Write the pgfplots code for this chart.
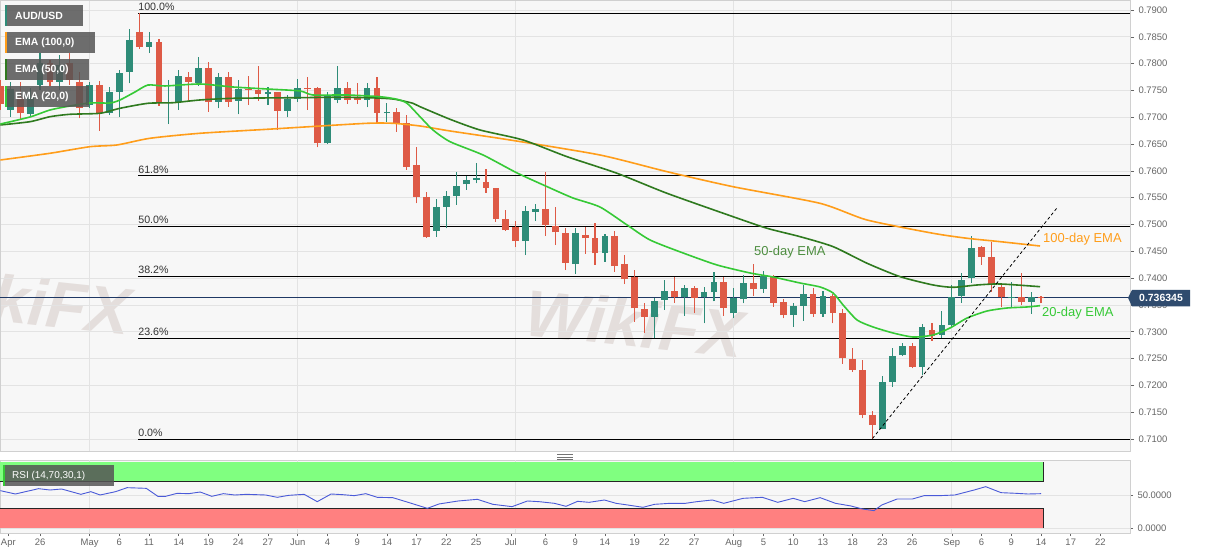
\documentclass[border=0pt]{standalone}
\usepackage{pgfplots}
\pgfplotsset{compat=1.18}
\usepackage{pgfplotstable}
\usepackage{fontspec}
\setmainfont{Liberation Sans}
\definecolor{bull}{HTML}{2E8C78}
\definecolor{bear}{HTML}{DE5A46}
\definecolor{ema20}{HTML}{36C936}
\definecolor{ema50}{HTML}{2F7A1F}
\definecolor{ema100}{HTML}{FF9D1A}
\definecolor{navy}{HTML}{2F4B6E}
\definecolor{pline}{HTML}{1F3864}
\definecolor{gridc}{HTML}{E3E3E3}
\definecolor{framec}{HTML}{D0D0D0}
\definecolor{tickc}{HTML}{666666}
\definecolor{bgc}{HTML}{F7F7F7}
\definecolor{rsiblue}{HTML}{4A5AD8}
\definecolor{bandg}{HTML}{80FF80}
\definecolor{bandr}{HTML}{FF8080}
\definecolor{legbg}{HTML}{555555}
\definecolor{fibc}{HTML}{333333}
\definecolor{wm}{HTML}{C8B9B4}

\pgfplotstableread{
i o h l c
1 0.77136 0.77658 0.77005 0.77527
3 0.77061 0.77546 0.76999 0.77384
4 0.77602 0.78193 0.77508 0.78006
6 0.77663 0.78161 0.77508 0.77974
9 0.77229 0.77663 0.77167 0.77602
11 0.77074 0.77561 0.77042 0.77479
12 0.77479 0.77882 0.77011 0.77833
13 0.77850 0.78641 0.77633 0.78441
15 0.78317 0.78586 0.78194 0.78411
17 0.77266 0.77695 0.76874 0.77290
18 0.77290 0.77882 0.77136 0.77770
20 0.77646 0.78130 0.77583 0.77926
22 0.77290 0.77819 0.77167 0.77757
24 0.77309 0.77695 0.77055 0.77521
27 0.77434 0.77570 0.77229 0.77471
29 0.77123 0.77415 0.76999 0.77341
30 0.77341 0.77708 0.77290 0.77540
33 0.76514 0.77477 0.76501 0.77415
34 0.77322 0.77956 0.77260 0.77551
37 0.77322 0.77633 0.77186 0.77540
39 0.77074 0.77273 0.76918 0.77104
44 0.74885 0.75476 0.74774 0.75321
45 0.75332 0.75631 0.74929 0.75532
46 0.75537 0.75985 0.75364 0.75724
47 0.75750 0.75905 0.75644 0.75830
48 0.75830 0.76153 0.75768 0.75873
53 0.74692 0.75345 0.74431 0.75257
54 0.75238 0.75376 0.75065 0.75283
58 0.74263 0.74929 0.74076 0.74835
61 0.74474 0.74823 0.74307 0.74791
66 0.73282 0.73624 0.72877 0.73575
67 0.73592 0.73965 0.73406 0.73760
69 0.73654 0.73866 0.73294 0.73822
71 0.73642 0.73841 0.73158 0.73747
72 0.73735 0.74120 0.73567 0.73929
74 0.73344 0.73810 0.73251 0.73624
75 0.73605 0.74058 0.73530 0.73915
77 0.73792 0.74139 0.73722 0.74040
80 0.73312 0.73543 0.73095 0.73486
81 0.73486 0.73872 0.73201 0.73704
83 0.73331 0.73754 0.73282 0.73667
89 0.71181 0.72175 0.71181 0.72058
90 0.72068 0.72691 0.71975 0.72553
91 0.72566 0.72785 0.72547 0.72740
93 0.72348 0.73144 0.72194 0.73094
95 0.72939 0.73393 0.72877 0.73126
96 0.73126 0.73872 0.73064 0.73654
97 0.73667 0.74090 0.73543 0.73965
98 0.73997 0.74786 0.73915 0.74568
102 0.73624 0.73934 0.73456 0.73654
104 0.73561 0.73747 0.73331 0.73654
}\bulltab

\pgfplotstableread{
i o h l c
0 0.77583 0.77695 0.77136 0.77247
2 0.77384 0.77663 0.76949 0.77074
5 0.78006 0.78068 0.77583 0.77663
7 0.78006 0.78193 0.77602 0.77695
8 0.77663 0.77850 0.76981 0.77167
10 0.77602 0.77676 0.76744 0.77074
14 0.78586 0.78940 0.78269 0.78317
16 0.78411 0.78455 0.77210 0.77260
19 0.77745 0.77850 0.77309 0.77658
21 0.77926 0.78031 0.77104 0.77290
23 0.77757 0.77850 0.77197 0.77290
25 0.77527 0.77770 0.77229 0.77508
26 0.77508 0.77962 0.77309 0.77434
28 0.77465 0.77477 0.76762 0.77123
31 0.77551 0.77745 0.77136 0.77521
32 0.77540 0.77558 0.76440 0.76514
35 0.77551 0.77663 0.77247 0.77322
36 0.77385 0.77633 0.77247 0.77322
38 0.77540 0.77757 0.76889 0.77085
40 0.77104 0.77167 0.76731 0.76901
41 0.76887 0.77042 0.76017 0.76078
42 0.76110 0.76451 0.75395 0.75519
43 0.75519 0.75612 0.74750 0.74762
49 0.75798 0.76030 0.75588 0.75686
50 0.75675 0.75681 0.75052 0.75102
51 0.75097 0.75270 0.74884 0.74897
52 0.74959 0.75070 0.74573 0.74692
55 0.75283 0.75985 0.74785 0.74990
56 0.74972 0.75332 0.74617 0.74854
57 0.74847 0.74935 0.74151 0.74288
59 0.74804 0.74948 0.74452 0.74743
60 0.74743 0.75023 0.74245 0.74463
62 0.74791 0.74879 0.74120 0.74226
63 0.74257 0.74431 0.73890 0.73978
64 0.74027 0.74151 0.73188 0.73438
65 0.73426 0.73543 0.72970 0.73282
68 0.73765 0.74015 0.73543 0.73654
70 0.73822 0.73853 0.73344 0.73636
73 0.73929 0.74027 0.73294 0.73444
76 0.73915 0.74263 0.73667 0.73792
78 0.74027 0.74058 0.73468 0.73543
79 0.73549 0.73604 0.73251 0.73312
82 0.73704 0.73816 0.73282 0.73331
84 0.73667 0.73704 0.73157 0.73356
85 0.73344 0.73419 0.72399 0.72505
86 0.72486 0.72691 0.72255 0.72287
87 0.72287 0.72473 0.71386 0.71448
88 0.71448 0.71528 0.71000 0.71261
92 0.72740 0.72785 0.72318 0.72348
94 0.73033 0.73157 0.72833 0.72921
99 0.74587 0.74599 0.74245 0.74400
100 0.74388 0.74667 0.73747 0.73890
101 0.73829 0.73872 0.73456 0.73642
103 0.73642 0.74101 0.73493 0.73561
105 0.73654 0.73666 0.73530 0.73635
}\beartab

\begin{document}
\begin{tikzpicture}
\fill[white] (0,0) rectangle (1207bp,555bp);
\path[use as bounding box] (0,0) rectangle (1207bp,555bp);
\fill[bgc] (0,104bp) rectangle (1130bp,555bp);
\fill[bgc] (0,22bp) rectangle (1130bp,95bp);
% faint watermarks
\node[text=wm, opacity=0.4, rotate=-6, font=\bfseries\itshape\fontsize{66}{66}\selectfont] at (22bp,255bp) {WikiFX};
\node[text=wm, opacity=0.4, rotate=-6, font=\bfseries\itshape\fontsize{66}{66}\selectfont] at (635bp,232bp) {WikiFX};

\begin{axis}[
  at={(0bp,104bp)}, anchor=south west, scale only axis,
  width=1130bp, height=451bp,
  xmin=-0.04, xmax=113.98, ymin=0.707763, ymax=0.791865,
  axis line style={draw=framec, line width=0.7bp},
  xtick={9,30,52,74,96}, xticklabels={}, xmajorgrids,
  x tick style={draw=none},
  ytick={0.710,0.715,0.720,0.725,0.730,0.735,0.740,0.745,0.750,0.755,0.760,0.765,0.770,0.775,0.780,0.785,0.790},
  ytick pos=right, yticklabel pos=right, ymajorgrids,
  y tick style={draw=tickc, line width=0.6bp},
  tick align=outside, major tick length=4bp,
  grid style={draw=gridc, line width=0.7bp},
  yticklabel style={font=\fontsize{9.5}{11}\selectfont, text=tickc, xshift=1bp,
    /pgf/number format/.cd, fixed, fixed zerofill, precision=4, assume math mode=true},
]
% Fibonacci levels
\addplot[black, line width=0.8bp, forget plot] coordinates {(13.9,0.78940) (113.98,0.78940)};
\addplot[black, line width=0.8bp, forget plot] coordinates {(13.9,0.75907) (113.98,0.75907)};
\addplot[black, line width=0.8bp, forget plot] coordinates {(13.9,0.74970) (113.98,0.74970)};
\addplot[black, line width=0.8bp, forget plot] coordinates {(13.9,0.74033) (113.98,0.74033)};
\addplot[black, line width=0.8bp, forget plot] coordinates {(13.9,0.72874) (113.98,0.72874)};
\addplot[black, line width=0.8bp, forget plot] coordinates {(13.9,0.71000) (113.98,0.71000)};
% current price
\addplot[pline, line width=0.8bp, forget plot] coordinates {(-0.04,0.736345) (113.98,0.736345)};
% wicks
\addplot[draw=none, mark=none, forget plot, error bars/.cd, y dir=plus, y explicit, error mark=none,
  error bar style={draw=bull, line width=1.1bp}] table[x=i, y=l, y error expr=\thisrow{h}-\thisrow{l}] {\bulltab};
\addplot[draw=none, mark=none, forget plot, error bars/.cd, y dir=plus, y explicit, error mark=none,
  error bar style={draw=bear, line width=1.1bp}] table[x=i, y=l, y error expr=\thisrow{h}-\thisrow{l}] {\beartab};
% bodies
\addplot[draw=none, mark=none, forget plot, error bars/.cd, y dir=plus, y explicit, error mark=none,
  error bar style={draw=bull, line width=6.8bp}] table[x=i, y=o, y error expr=\thisrow{c}-\thisrow{o}] {\bulltab};
\addplot[draw=none, mark=none, forget plot, error bars/.cd, y dir=plus, y explicit, error mark=none,
  error bar style={draw=bear, line width=6.8bp}] table[x=i, y=c, y error expr=\thisrow{o}-\thisrow{c}] {\beartab};
% EMA 100
\addplot[ema100, line width=1.6bp, smooth, tension=0.4, forget plot] coordinates {
(0,0.76203) (5.0,0.76328) (9.04,0.76451) (11.77,0.76483) (15.1,0.76608) (20.14,0.76701)
(26.9,0.76775) (30.23,0.76813) (36.99,0.76887) (39.62,0.76887) (42.34,0.76837) (45.37,0.76744)
(51.42,0.76576) (60.5,0.76296) (67.26,0.75985) (73.92,0.75705) (82.7,0.75395) (87.45,0.75084)
(94.11,0.74836) (97.54,0.74743) (100.87,0.74680) (104.9,0.74599)};
% EMA 50
\addplot[ema50, line width=1.6bp, smooth, tension=0.4, forget plot] coordinates {
(0,0.76856) (2.99,0.76917) (5.0,0.77010) (7.02,0.77055) (10.05,0.77074) (12.07,0.77167)
(14.89,0.77260) (17.42,0.77271) (20.14,0.77322) (23.47,0.77353) (30.23,0.77365) (33.56,0.77372)
(36.99,0.77365) (39.62,0.77340) (41.63,0.77260) (42.34,0.77197) (45.37,0.76962) (48.4,0.76762)
(52.73,0.76576) (57.17,0.76265) (62.22,0.75955) (67.26,0.75582) (73.92,0.75146) (77.36,0.74929)
(80.69,0.74773) (84.02,0.74587) (87.45,0.74277) (90.78,0.74027) (94.11,0.73872) (96.13,0.73829)
(98.55,0.73872) (100.87,0.73891) (104.9,0.73840)};
% EMA 20
\addplot[ema20, line width=1.6bp, smooth, tension=0.4, forget plot] coordinates {
(0,0.76874) (2.99,0.77005) (5.0,0.77135) (7.02,0.77210) (9.04,0.77266) (11.06,0.77266)
(12.07,0.77322) (13.58,0.77471) (14.89,0.77601) (16.61,0.77583) (20.14,0.77620) (23.47,0.77564)
(26.9,0.77527) (30.23,0.77490) (31.54,0.77415) (34.98,0.77415) (38.3,0.77383) (40.02,0.77335)
(41.03,0.77260) (42.34,0.77010) (43.65,0.76762) (45.37,0.76544) (48.7,0.76296) (52.13,0.75961)
(55.46,0.75681) (57.78,0.75494) (60.5,0.75326) (63.23,0.74991) (65.55,0.74711) (68.88,0.74469)
(72.31,0.74245) (75.64,0.74096) (77.96,0.74021) (80.69,0.73909) (82.7,0.73835) (84.02,0.73723)
(85.03,0.73499) (86.44,0.73219) (88.05,0.73089) (90.07,0.72977) (92.09,0.72902) (94.11,0.72939)
(95.82,0.73070) (97.54,0.73256) (99.56,0.73387) (101.58,0.73443) (103.59,0.73462) (104.9,0.73486)};
% trend line
\addplot[black, line width=0.8bp, dash pattern=on 3bp off 2.5bp, forget plot] coordinates {(88.0,0.71010) (106.7,0.75330)};
% fib labels
\foreach \lv/\tx in {0.78940/100.0\%, 0.75907/61.8\%, 0.74970/50.0\%, 0.74033/38.2\%, 0.72874/23.6\%, 0.71000/0.0\%}{
  \edef\temp{\noexpand\node[anchor=base west, inner sep=0pt, yshift=2.6bp, text=fibc, font=\noexpand\fontsize{10.7}{12}\noexpand\selectfont] at (axis cs:13.9,\lv) {\tx};}
  \temp
}
\end{axis}

\begin{axis}[
  at={(0bp,22bp)}, anchor=south west, scale only axis,
  width=1130bp, height=73bp,
  xmin=-0.04, xmax=113.98, ymin=-7.06, ymax=102.55,
  axis line style={draw=framec, line width=0.7bp},
  xtick={0.8,4,9,12,15,18,21,24,27,30,33,36,39,42,45,48,51.5,55,58,61,64,67,70,74,77,80,83,86,89,92,96,99,102,105,108,111},
  xticklabels={Apr,26,May,6,11,14,19,24,27,Jun,4,9,14,17,22,25,Jul,6,9,14,19,22,27,Aug,5,10,13,18,23,26,Sep,6,9,14,17,22},
  xtick pos=bottom,
  x tick style={draw=tickc, line width=0.6bp},
  xticklabel style={font=\fontsize{9.5}{11}\selectfont, text=tickc, yshift=0.5bp},
  extra x ticks={9,30,52,74,96}, extra x tick labels={},
  extra x tick style={grid=major, major tick length=0pt},
  ytick={0,50}, yticklabels={0.0000,50.0000},
  ytick pos=right, yticklabel pos=right, ymajorgrids,
  y tick style={draw=tickc, line width=0.6bp},
  tick align=outside, major tick length=3bp,
  grid style={draw=gridc, line width=0.7bp},
  yticklabel style={font=\fontsize{9.5}{11}\selectfont, text=tickc, xshift=1bp},
]
\addplot[fill=bandg, draw=none, forget plot] coordinates {(-0.04,70) (105.2,70) (105.2,100) (-0.04,100)} -- cycle;
\addplot[fill=bandr, draw=none, forget plot] coordinates {(-0.04,0) (105.2,0) (105.2,30) (-0.04,30)} -- cycle;
\addplot[black!85, line width=0.8bp, forget plot] coordinates {(-0.04,70) (105.2,70) (105.2,100)};
\addplot[black!85, line width=0.8bp, forget plot] coordinates {(-0.04,30) (105.2,30) (105.2,0)};
\addplot[rsiblue, line width=0.9bp, forget plot] coordinates {
(0,56.5) (1.51,51.5) (3.85,59.5) (5.01,57.5) (6.18,59) (8.12,51) (9.13,55) (10.06,50) (11.62,55)
(12.78,61) (14.72,60) (15.89,48) (16.67,48) (17.83,52.5) (19.0,52) (20.16,54.5) (21.33,48) (22.49,52)
(23.66,50) (24.82,51) (26.77,50) (27.93,46.5) (29.1,49.5) (30.65,51) (31.97,40) (33.37,51.5) (34.54,50.5)
(35.7,49) (36.87,52) (38.03,46.5) (39.59,46) (41.14,39) (43.08,30) (44.25,36.5) (46.19,41) (48.13,43.5)
(49.69,36) (51.63,32.5) (53.18,41) (54.35,40) (55.9,37.5) (57.07,33) (58.24,40.5) (59.4,39) (60.95,42.5)
(62.12,37.5) (63.29,35) (64.84,31.5) (66.0,36) (67.56,37.5) (69.11,37.5) (70.28,40) (71.83,42.5) (72.99,37.5)
(74.94,45) (76.88,46.5) (78.44,39) (79.99,45) (81.16,40) (82.71,46) (84.26,37.5) (85.82,33.5) (86.98,29)
(88.15,26.5) (88.93,35) (90.48,44) (92.03,44) (93.2,49) (94.75,49) (96.31,50) (98.25,57.5) (99.42,62.5)
(100.97,53.5) (102.52,52.5) (103.69,51.5) (105.01,52)};
\end{axis}

% handle
\draw[black!55, line width=0.7bp] (557bp,100.5bp) -- (573bp,100.5bp) (557bp,98bp) -- (573bp,98bp) (557bp,95.5bp) -- (573bp,95.5bp);

% legend boxes
\fill[legbg, opacity=0.85] (5bp,529bp) rectangle (83bp,550bp);
\fill[bull] (5bp,529bp) rectangle (7bp,550bp);
\node[anchor=west, text=white, inner sep=0pt, font=\bfseries\fontsize{10.5}{12}\selectfont] at (15bp,539.5bp) {AUD/USD};
\fill[legbg, opacity=0.85] (5bp,502bp) rectangle (95bp,523bp);
\fill[ema100] (5bp,502bp) rectangle (7bp,523bp);
\node[anchor=west, text=white, inner sep=0pt, font=\bfseries\fontsize{10.5}{12}\selectfont] at (15bp,512.5bp) {EMA (100,0)};
\fill[legbg, opacity=0.85] (5bp,475bp) rectangle (89bp,496bp);
\fill[ema50] (5bp,475bp) rectangle (7bp,496bp);
\node[anchor=west, text=white, inner sep=0pt, font=\bfseries\fontsize{10.5}{12}\selectfont] at (15bp,485.5bp) {EMA (50,0)};
\fill[legbg, opacity=0.85] (5bp,448bp) rectangle (89bp,469bp);
\fill[ema20] (5bp,448bp) rectangle (7bp,469bp);
\node[anchor=west, text=white, inner sep=0pt, font=\bfseries\fontsize{10.5}{12}\selectfont] at (15bp,458.5bp) {EMA (20,0)};
\fill[legbg, opacity=0.85] (3bp,69bp) rectangle (114bp,90bp);
\fill[ema20] (3bp,69bp) rectangle (5bp,90bp);
\node[anchor=west, text=white, inner sep=0pt, font=\fontsize{10}{12}\selectfont] at (12bp,79.5bp) {RSI (14,70,30,1)};

% EMA annotations
\node[anchor=west, inner sep=0pt, text=ema50!85!white, font=\fontsize{13}{15}\selectfont] at (754bp,303.3bp) {50-day EMA};
\node[anchor=west, inner sep=0pt, text=ema100, font=\fontsize{13}{15}\selectfont] at (1043bp,315.7bp) {100-day EMA};
\node[anchor=west, inner sep=0pt, text=ema20, font=\fontsize{13}{15}\selectfont] at (1042bp,241.7bp) {20-day EMA};

% current price tag
\fill[navy] (1128bp,257.3bp) -- (1132bp,265bp) -- (1190bp,265bp) -- (1190bp,248.5bp) -- (1132bp,248.5bp) -- cycle;
\node[text=white, inner sep=0pt, font=\bfseries\fontsize{10.5}{12}\selectfont] at (1161bp,256.6bp) {0.736345};
\end{tikzpicture}
\end{document}
